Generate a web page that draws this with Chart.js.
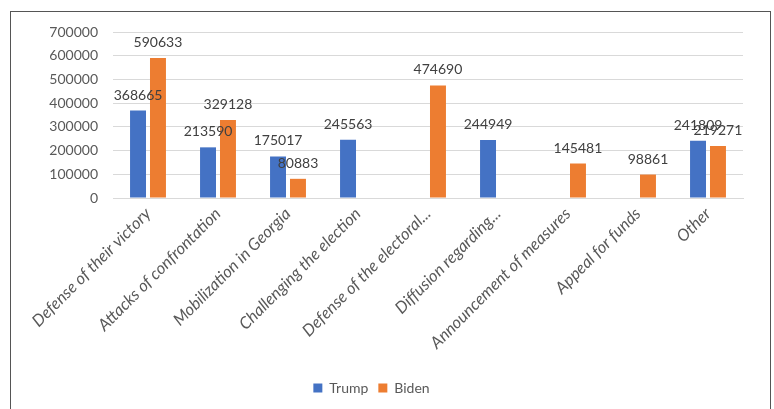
<!DOCTYPE html>
<html>
<head>
<meta charset="utf-8">
<script src="https://cdn.jsdelivr.net/npm/chart.js"></script>
<style>
  body { margin: 0; background: #fff; }
  #wrap { position: relative; width: 774px; height: 409px; overflow: hidden; }
  #frame { position: absolute; left: 10px; top: 11px; width: 759px; height: 420px; border: 1px solid #555; }
  canvas { position: absolute; left: 0; top: 0; }
</style>
</head>
<body>
<div id="wrap">
  <div id="frame"></div>
  <canvas id="chart" width="774" height="409"></canvas>
</div>
<script>
const categories = [
  "Defense of their victory",
  "Attacks of confrontation",
  "Mobilization in Georgia",
  "Challenging the election",
  "Defense of the electoral...",
  "Diffusion regarding...",
  "Announcement of measures",
  "Appeal for funds",
  "Other",
];
const trump = [368665, 213590, 175017, 245563, null, 244949, null, null, 241809];
const biden = [590633, 329128, 80883, null, 474690, null, 145481, 98861, 219271];
const yTicks = [0, 100000, 200000, 300000, 400000, 500000, 600000, 700000];

const fontFamily = "Lato, 'Open Sans', sans-serif";

// draws the value above each bar
const valueLabels = {
  id: "valueLabels",
  afterDatasetsDraw(chart) {
    const ctx = chart.ctx;
    ctx.save();
    ctx.font = "14px " + fontFamily;
    ctx.fillStyle = "#404040";
    ctx.textAlign = "center";
    ctx.textBaseline = "alphabetic";
    chart.data.datasets.forEach((ds, i) => {
      chart.getDatasetMeta(i).data.forEach((bar, j) => {
        const v = ds.data[j];
        if (v == null) return;
        ctx.fillText(String(v), bar.x, bar.y - 11);
      });
    });
    ctx.restore();
  },
};

new Chart(document.getElementById("chart"), {
  type: "bar",
  data: {
    labels: categories,
    datasets: [
      { label: "Trump", data: trump, backgroundColor: "#4472C4" },
      { label: "Biden", data: biden, backgroundColor: "#ED7D31" },
    ],
  },
  options: {
    responsive: false,
    animation: false,
    categoryPercentage: 0.57,
    barPercentage: 0.8,
    layout: { padding: { top: 32, right: 31, left: 0, bottom: 4 } },
    plugins: {
      tooltip: { enabled: false },
      legend: {
        position: "bottom",
        labels: {
          boxWidth: 9,
          boxHeight: 9,
          padding: 10,
          color: "#595959",
          font: { family: fontFamily, size: 14 },
        },
      },
    },
    scales: {
      x: {
        grid: { display: false, drawTicks: false },
        border: { color: "#d9d9d9" },
        ticks: {
          autoSkip: false,
          maxRotation: 45,
          minRotation: 45,
          padding: 6,
          color: "#595959",
          font: { family: fontFamily, size: 16.5, style: "italic" },
        },
        afterFit(scale) { scale.height = 173; },
      },
      y: {
        min: 0,
        max: 700000,
        afterBuildTicks(scale) { scale.ticks = yTicks.map((v) => ({ value: v })); },
        grid: { color: "#d9d9d9", drawTicks: false },
        border: { display: false },
        ticks: {
          padding: 15,
          color: "#595959",
          font: { family: fontFamily, size: 14 },
          callback: (v) => String(v),
        },
        afterFit(scale) { scale.width = 113; },
      },
    },
  },
  plugins: [valueLabels],
});
</script>
</body>
</html>
